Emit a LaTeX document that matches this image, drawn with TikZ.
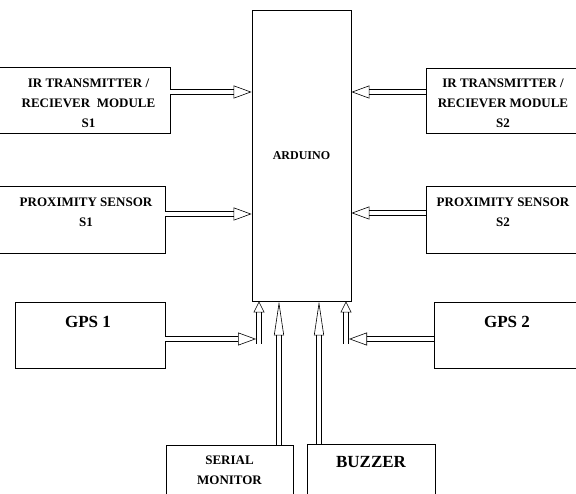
\documentclass[tikz,border=0pt]{standalone}
\usepackage{fontspec}
\setmainfont{Liberation Serif}
\usetikzlibrary{arrows.meta,positioning}

\begin{document}
\begin{tikzpicture}[x=1pt, y=-1pt,
  box/.style = {draw, line width=0.8pt, rectangle, inner sep=0pt},
  txt/.style = {inner sep=0pt, align=center, font=\bfseries\fontsize{13}{20}\selectfont},
  big/.style = {inner sep=0pt, font=\bfseries\fontsize{17}{20}\selectfont},
  dbl/.style = {double, double distance=4pt, line width=0.6pt,
    -{Triangle[open, length=18pt, width=13pt]}},
  dbllong/.style = {double, double distance=4pt, line width=0.6pt,
    -{Triangle[open, length=34pt, width=10pt]}}]
  \useasboundingbox (0,0) rectangle (576,494);
  % controller
  \node[box, minimum width=99pt, minimum height=291pt,
    font=\bfseries\fontsize{12}{14}\selectfont] (ard) at (301.5,155.5) {ARDUINO};
  % left side
  \node[box, minimum width=172pt, minimum height=66pt] (irA) at (84,100) {};
  \node[txt] (irAt) at (88.5,103) {IR TRANSMITTER /\\RECIEVER\ \ MODULE\\S1};
  \node[box, minimum width=167pt, minimum height=67pt] (proxA) at (81.5,219.5) {};
  \node[txt] (proxAt) at (86,212.5) {PROXIMITY SENSOR\\S1};
  \node[box, minimum width=150pt, minimum height=66pt] (gpsA) at (90,335) {};
  \node[big] (gpsAt) at (88,322) {GPS 1};
  % right side
  \node[box, minimum width=154pt, minimum height=65pt] (irB) at (503,100.5) {};
  \node[txt] (irBt) at (503,103) {IR TRANSMITTER /\\RECIEVER MODULE\\S2};
  \node[box, minimum width=154pt, minimum height=67pt] (proxB) at (503,219.5) {};
  \node[txt] (proxBt) at (503,212.5) {PROXIMITY SENSOR\\S2};
  \node[box, minimum width=146pt, minimum height=66pt] (gpsB) at (507,335) {};
  \node[big] (gpsBt) at (507,322) {GPS 2};
  % bottom
  \node[box, minimum width=127pt, minimum height=60pt] (serial) at (229.5,475) {};
  \node[txt] (serialt) at (229.5,470) {SERIAL\\MONITOR};
  \node[box, minimum width=128pt, minimum height=60pt] (buzzer) at (371,474) {};
  \node[big] (buzzert) at (371,462) {BUZZER};
  % junctions below the controller
  \coordinate (jA) at (259,344);
  \coordinate (jB) at (346,344);
  \coordinate (tipA) at (256,339);
  \coordinate (tipB) at (349,339);
  % signals
  \draw[dbl] ([yshift=8pt]irA.east) -- ([yshift=8pt]irA.east -| ard.west);
  \draw[dbl] ([yshift=5.5pt]proxA.east) -- ([yshift=5.5pt]proxA.east -| ard.west);
  \draw[dbl] ([yshift=8.5pt]irB.west) -- ([yshift=8.5pt]irB.west -| ard.east);
  \draw[dbl] ([yshift=6.5pt]proxB.west) -- ([yshift=6.5pt]proxB.west -| ard.east);
  \draw[dbl] ([yshift=-4pt]gpsA.east) -- (tipA);
  \draw[dbl] ([yshift=-4pt]gpsB.west) -- (tipB);
  \draw[dbl, -{Triangle[open, length=11pt, width=11pt]}] (jA) -- (jA |- ard.south);
  \draw[dbl, -{Triangle[open, length=11pt, width=11pt]}] (jB) -- (jB |- ard.south);
  \draw[dbllong] ([xshift=49.5pt]serial.north) -- ([xshift=49.5pt]serial.north |- ard.south);
  \draw[dbllong] ([xshift=-52pt]buzzer.north) -- ([xshift=-52pt]buzzer.north |- ard.south);
\end{tikzpicture}
\end{document}
